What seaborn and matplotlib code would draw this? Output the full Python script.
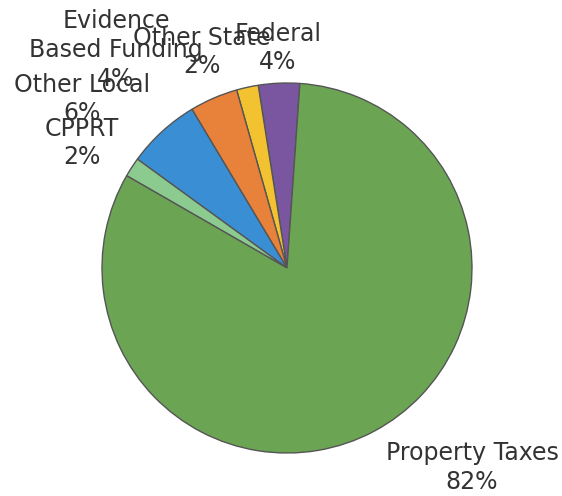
import matplotlib
matplotlib.use("Agg")
import matplotlib.pyplot as plt
import seaborn as sns

sns.set_theme(style="white")
plt.rcParams['font.family'] = ['DejaVu Sans']

categories = ["Federal", "Other State", "Evidence\nBased Funding", "Other Local", "CPPRT", "Property Taxes"]
values = [3.6, 1.9, 4.2, 6.4, 1.7, 82.2]
colors = ["#7A55A0", "#F2C230", "#E8813A", "#3A8FD4", "#8CCB90", "#6BA553"]
# label anchor positions (pie radius units)
label_pos = [(-0.049, 1.189), (-0.459, 1.168), (-0.924, 1.178), (-1.108, 0.914), (-1.108, 0.676), (1.0, -1.08)]

fig = plt.figure(figsize=(5.62, 4.96), dpi=100)
ax = fig.add_axes([0, 0, 1, 1])
wedges, _ = ax.pie(values, colors=colors, startangle=86, counterclock=True,
                   radius=1.0, wedgeprops=dict(edgecolor="#555555", linewidth=1.0))
ax.set_xlim(-287/185, (562-287)/185)
ax.set_ylim((268-496)/185, 268/185)
ax.set_aspect('auto')
ax.axis('off')

total = sum(values)
for cat, v, (x, y) in zip(categories, values, label_pos):
    pct = round(v / total * 100)
    ax.text(x, y, f"{cat}\n{pct}%", ha="center", va="center", fontsize=17,
            color="#333333", linespacing=1.25)

fig.savefig("out.png", dpi=100)
